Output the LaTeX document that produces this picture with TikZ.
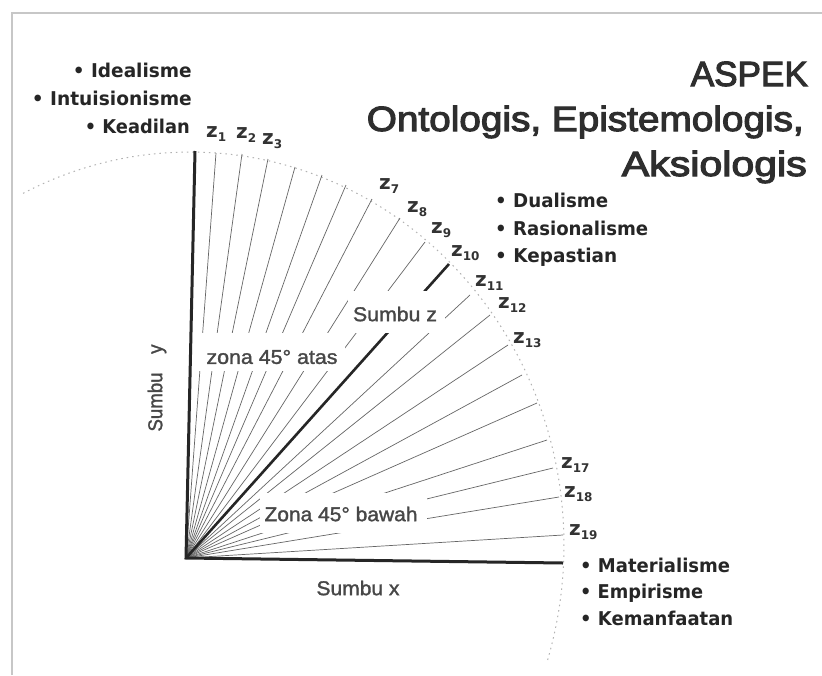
\documentclass[tikz,border=0pt]{standalone}
\usepackage{fontspec}
\usepackage{graphicx}
\setmainfont{Liberation Sans}
\newfontfamily\bulfont{DejaVu Sans}
\newfontfamily\ttlfont{Liberation Sans}[FakeBold=3]
\newfontfamily\lblfont{Liberation Sans}[FakeBold=1.5]
\newcommand{\fitto}[2]{\resizebox{#1}{\height}{#2}}
\newcommand{\zsub}[1]{z\raisebox{-4.5pt}{\fontsize{12}{13}\selectfont #1}}
\begin{document}
\begin{tikzpicture}[x=1pt,y=-1pt,
  fanline/.style={draw=black!60, line width=0.7pt},
  axisline/.style={draw=black!85, line width=3pt},
  zaxis/.style={draw=black!85, line width=2.6pt},
  arcline/.style={draw=black!30, line width=1pt, dash pattern=on 1.5pt off 4pt},
  gapbox/.style={fill=white, draw=none},
  lbl/.style={inner sep=0, text=black!72, font=\lblfont\fontsize{20}{24}\selectfont},
  bul/.style={inner sep=0, text=black!85, font=\bulfont\bfseries\fontsize{19}{22}\selectfont},
  zl/.style={inner sep=0, anchor=base west, text=black!80, font=\bulfont\bfseries\fontsize{20}{24}\selectfont},
  ttl/.style={inner sep=0, anchor=base east, text=black!82, font=\ttlfont\fontsize{35}{40}\selectfont}]
\useasboundingbox (0,0) rectangle (822,675);
\fill[white] (0,0) rectangle (822,675);
% frame
\draw[black!22, line width=1.5pt] (12,675) -- (12,13) -- (822,13);
% dotted arc
\draw[arcline] plot[domain=-17:117, samples=120] ({190+374*cos(\x)},{545-393*sin(\x)});
% coordinates
\coordinate (O) at (186,558);
\coordinate (Y) at (195,151);
\coordinate (X) at (563,563);
\coordinate (Z) at (449,264);
\coordinate (e1) at (216,153);
\coordinate (e2) at (242,154);
\coordinate (e3) at (268,159);
\coordinate (e4) at (295,167);
\coordinate (e5) at (322,175);
\coordinate (e6) at (346,185);
\coordinate (e7) at (372,199);
\coordinate (e8) at (400,218);
\coordinate (e9) at (425,242);
\coordinate (e11) at (470,295);
\coordinate (e12) at (490,315);
\coordinate (e13) at (508,345);
\coordinate (e14) at (522,375);
\coordinate (e15) at (537,403);
\coordinate (e16) at (547,440);
\coordinate (e17) at (553,468);
\coordinate (e18) at (559,497);
\coordinate (e19) at (563,535);
% fan
\foreach \i in {1,...,9,11,12,...,19} \draw[fanline] (O) -- (e\i);
\draw[zaxis] (O) -- (Z);
% label gaps
\fill[gapbox] (192,333) rectangle (345,371);
\fill[gapbox] (348,291) rectangle (445,333);
\fill[gapbox] (260,493) rectangle (427,533);
% axes
\draw[axisline] (Y) -- (O) -- (X);
% axis labels
\node[lbl] (za) at (272,357) {\fitto{131pt}{zona 45° atas}};
\node[lbl] (sz) at (395,314) {\fitto{84pt}{Sumbu z}};
\node[lbl] (zb) at (341,514) {\fitto{153pt}{Zona 45° bawah}};
\node[lbl] (sx) at (358,588) {\fitto{83pt}{Sumbu x}};
\node[lbl, rotate=90] (sy) at (157,388) {\fitto{87pt}{Sumbu\hspace{20pt}y}};
% z labels
\node[zl] (z1) at (206,137) {\zsub{1}};
\node[zl] (z2) at (236,138) {\zsub{2}};
\node[zl] (z3) at (262,144) {\zsub{3}};
\node[zl] (z7) at (379,189) {\zsub{7}};
\node[zl] (z8) at (407,212) {\zsub{8}};
\node[zl] (z9) at (431,233) {\zsub{9}};
\node[zl] (z10) at (451,256) {\zsub{10}};
\node[zl] (z11) at (475,286) {\zsub{11}};
\node[zl] (z12) at (498,308) {\zsub{12}};
\node[zl] (z13) at (513,343) {\zsub{13}};
\node[zl] (z17) at (561,468) {\zsub{17}};
\node[zl] (z18) at (564,497) {\zsub{18}};
\node[zl] (z19) at (569,535) {\zsub{19}};
% title
\node[ttl] (t1) at (808,86) {\fitto{117pt}{ASPEK}};
\node[ttl] (t2) at (804,131) {\fitto{437pt}{Ontologis, Epistemologis,}};
\node[ttl] (t3) at (807,176) {\fitto{185pt}{Aksiologis}};
% bullet lists
\node[bul, anchor=base east] (b1) at (192,77) {\fitto{119pt}{• Idealisme}};
\node[bul, anchor=base east] (b2) at (192,105) {\fitto{160pt}{• Intuisionisme}};
\node[bul, anchor=base east] (b3) at (190,133) {\fitto{105pt}{• Keadilan}};
\node[bul, anchor=base west] (b4) at (495,207) {\fitto{113pt}{• Dualisme}};
\node[bul, anchor=base west] (b5) at (495,235) {\fitto{153pt}{• Rasionalisme}};
\node[bul, anchor=base west] (b6) at (495,262) {\fitto{122pt}{• Kepastian}};
\node[bul, anchor=base west] (b7) at (580,572) {\fitto{150pt}{• Materialisme}};
\node[bul, anchor=base west] (b8) at (580,598) {\fitto{123pt}{• Empirisme}};
\node[bul, anchor=base west] (b9) at (580,625) {\fitto{153pt}{• Kemanfaatan}};
\end{tikzpicture}
\end{document}
